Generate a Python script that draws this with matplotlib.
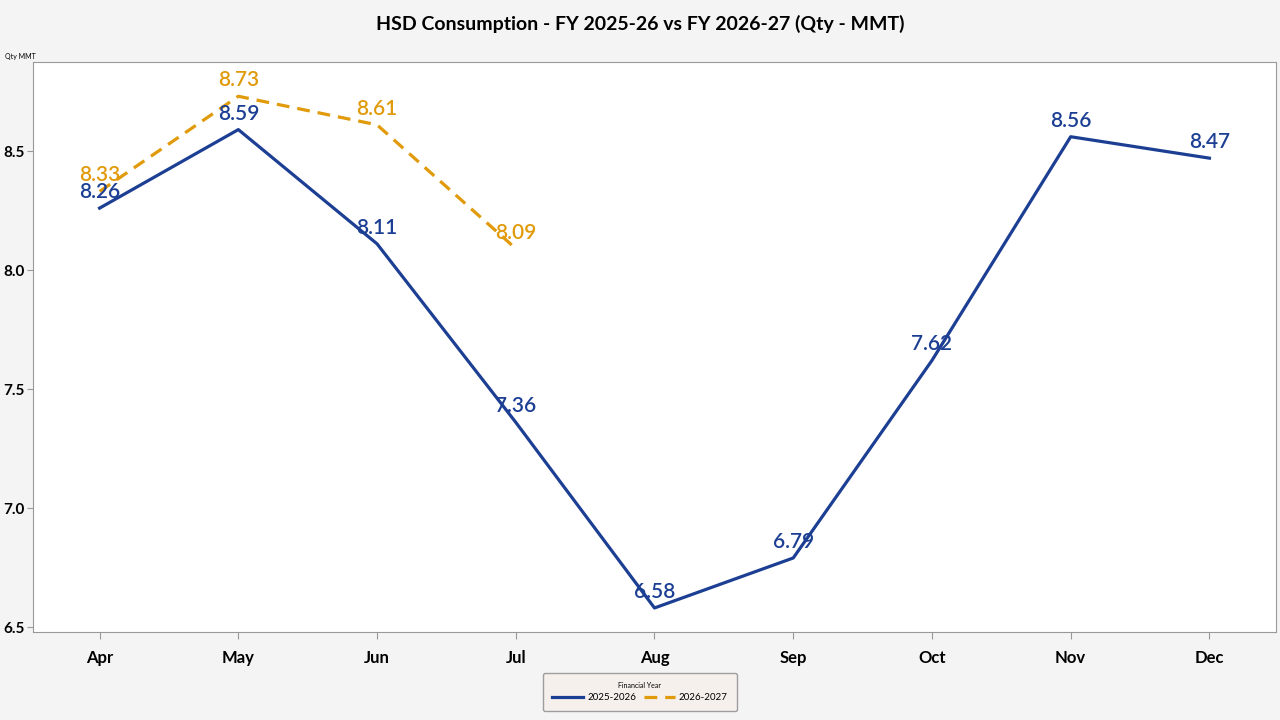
import matplotlib.pyplot as plt

months = ['Apr', 'May', 'Jun', 'Jul', 'Aug', 'Sep', 'Oct', 'Nov', 'Dec']
fy_2025_26 = [8.26, 8.59, 8.11, 7.36, 6.58, 6.79, 7.62, 8.56, 8.47]
fy_2026_27 = [8.33, 8.73, 8.61, 8.09]

blue = '#1c3f94'
orange = '#e09a0a'

plt.rcParams['font.family'] = ['Lato', 'DejaVu Sans']

fig = plt.figure(figsize=(12.8, 7.2), dpi=100, facecolor='#f4f4f4')
ax = fig.add_axes([33 / 1280, 1 - 632 / 720, (1276 - 33) / 1280, (632 - 62) / 720])
ax.set_facecolor('white')

x1 = list(range(len(fy_2025_26)))
x2 = list(range(len(fy_2026_27)))
ax.plot(x1, fy_2025_26, color=blue, linewidth=2.3, label='2025-2026')
ax.plot(x2, fy_2026_27, color=orange, linewidth=2.3, linestyle=(0, (4, 2.5)), label='2026-2027')

for x, v in zip(x1, fy_2025_26):
    ax.annotate(f'{v:.2f}', (x, v), xytext=(0, 16), textcoords='offset pixels',
                ha='center', va='center', fontsize=15, color=blue, fontweight='semibold')
for x, v in zip(x2, fy_2026_27):
    ax.annotate(f'{v:.2f}', (x, v), xytext=(0, 16), textcoords='offset pixels',
                ha='center', va='center', fontsize=15, color=orange, fontweight='semibold')

ax.set_xlim(-0.48, 8.48)
ax.set_ylim(6.479, 8.874)
ax.set_xticks(x1)
ax.set_xticklabels(months, fontsize=12, fontweight='bold')
ax.set_yticks([6.5, 7.0, 7.5, 8.0, 8.5])
ax.set_yticklabels(['6.5', '7.0', '7.5', '8.0', '8.5'], fontsize=11, fontweight='bold')
ax.tick_params(axis='x', length=5, color='#999999', pad=8)
ax.tick_params(axis='y', length=4, color='#999999', pad=2)
for s in ax.spines.values():
    s.set_color('#999999')

fig.text(0.5, 1 - 24 / 720, 'HSD Consumption - FY 2025-26 vs FY 2026-27 (Qty - MMT)',
         ha='center', va='center', fontsize=14, fontweight='bold')
fig.text(5 / 1280, 1 - 57 / 720, 'Qty MMT', fontsize=5, va='center')

leg = fig.legend(loc='center', bbox_to_anchor=(640 / 1280, 1 - 692 / 720), ncol=2,
                 title='Financial Year', title_fontsize=5, fontsize=7, frameon=True,
                 fancybox=True, edgecolor='#888888', facecolor='#f7efea',
                 handlelength=3.2, handletextpad=0.4, columnspacing=0.8, borderpad=0.9)
leg.get_frame().set_linewidth(1)

fig.savefig('out.png', dpi=100, facecolor=fig.get_facecolor())
